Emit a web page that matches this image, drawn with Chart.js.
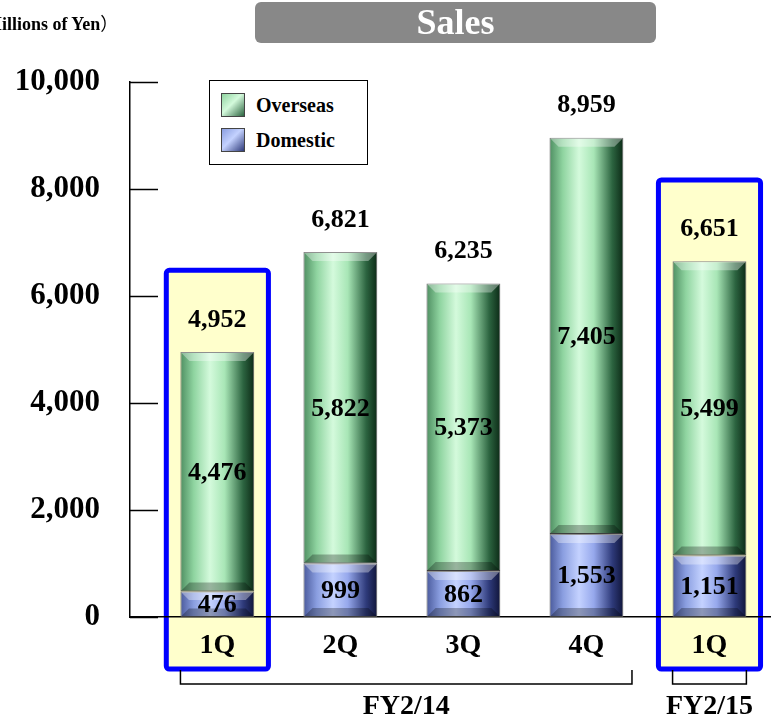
<!DOCTYPE html>
<html>
<head>
<meta charset="utf-8">
<script src="https://cdn.jsdelivr.net/npm/chart.js@4/dist/chart.umd.min.js"></script>
<style>
  html, body { margin: 0; padding: 0; background: #fff; overflow: hidden; }
  #wrap { position: relative; width: 771px; height: 718px; }
  #salesChart { position: absolute; left: 0; top: 0; }
  .serif { font-family: "Liberation Serif", "DejaVu Serif", serif; font-weight: bold; }
  .cjk { font-family: "Noto Sans CJK JP", sans-serif; font-weight: normal; }
  #units { position: absolute; left: -33px; top: 9px; font-size: 18px; white-space: nowrap; }
  #title { position: absolute; left: 255px; top: 2px; width: 401px; height: 41px; background: #888888;
           border-radius: 6px; color: #fff; font-size: 36px; text-align: center; line-height: 41px; }
  #legend { position: absolute; left: 209px; top: 80px; width: 157px; height: 83px; border: 1px solid #000; background: #fff; }
  .lg { position: absolute; left: 11px; height: 24px; font-size: 20px; display: flex; align-items: center; }
  .lg i { display: inline-block; width: 24px; height: 24px; margin-right: 11px; border: 1px solid #444; box-sizing: border-box; }
</style>
</head>
<body>
<div id="wrap">
  <canvas id="salesChart" width="771" height="718"></canvas>
  <div id="units" class="serif"><span class="cjk">（</span>Millions of Yen<span class="cjk">）</span></div>
  <div id="title" class="serif">Sales</div>
  <div id="legend" class="serif"></div>
</div>
<script>
const quarters = ['1Q', '2Q', '3Q', '4Q', '1Q'];
const domestic = [476, 999, 862, 1553, 1151];
const overseas = [4476, 5822, 5373, 7405, 5499];
const totals = [4952, 6821, 6235, 8959, 6651];
const yTicks = [0, 2000, 4000, 6000, 8000, 10000];
const fiscalGroups = [
    { label: 'FY2/14', from: 0, to: 3 },
    { label: 'FY2/15', from: 4, to: 4 }
];
// highlighted quarters (index + top of box in yen)
const highlights = [
    { index: 0, top: 6480 },
    { index: 4, top: 8170 }
];

const FONT = '"Liberation Serif", "DejaVu Serif", serif';
const fmt = v => v.toLocaleString('en-US');

const palettes = {
    Overseas: ['#4f8f62', '#8fd4a0', '#d4fadc', '#a8e6b6', '#2c6440', '#0c2a16'],
    Domestic: ['#4a5a9c', '#8a9ee0', '#c4d2ff', '#96a8ec', '#2e3a7a', '#10153a']
};

function barGradient(name) {
    return (c) => {
        const chart = c.chart;
        if (c.type !== 'data' || !chart.chartArea) return palettes[name][2];
        const xs = chart.scales.x;
        const cx = xs.getPixelForValue(c.parsed.x);
        const half = (xs.getPixelForValue(1) - xs.getPixelForValue(0)) * 0.3;
        const g = chart.ctx.createLinearGradient(cx - half, 0, cx + half, 0);
        const p = palettes[name];
        g.addColorStop(0, p[0]);
        g.addColorStop(0.18, p[1]);
        g.addColorStop(0.4, p[2]);
        g.addColorStop(0.6, p[3]);
        g.addColorStop(0.85, p[4]);
        g.addColorStop(1, p[5]);
        return g;
    };
}

const highlightBoxes = {
    id: 'highlightBoxes',
    beforeDraw(chart) {
        const { ctx, scales: { x, y }, chartArea } = chart;
        const unit = x.getPixelForValue(1) - x.getPixelForValue(0);
        ctx.save();
        highlights.forEach(h => {
            const cx = x.getPixelForValue(h.index);
            const left = cx - unit * 0.415, right = cx + unit * 0.415;
            const top = y.getPixelForValue(h.top), bottom = chartArea.bottom + 52;
            ctx.beginPath();
            ctx.roundRect(left, top, right - left, bottom - top, 3);
            ctx.fillStyle = '#ffffcc';
            ctx.fill();
            ctx.lineWidth = 5;
            ctx.strokeStyle = '#0000ff';
            ctx.stroke();
        });
        ctx.restore();
    }
};

// bevel on top and bottom of each bar segment
const bevel = {
    id: 'bevel',
    afterDatasetsDraw(chart) {
        const { ctx } = chart;
        ctx.save();
        chart.data.datasets.forEach((ds, di) => {
            chart.getDatasetMeta(di).data.forEach(bar => {
                const l = bar.x - bar.width / 2, r = bar.x + bar.width / 2;
                const t = bar.y, b = bar.base, d = Math.min(9, (b - t) / 3);
                ctx.fillStyle = 'rgba(255,255,255,0.35)';
                ctx.beginPath();
                ctx.moveTo(l, t); ctx.lineTo(r, t); ctx.lineTo(r - d, t + d); ctx.lineTo(l + d, t + d); ctx.closePath();
                ctx.fill();
                ctx.fillStyle = 'rgba(0,0,0,0.28)';
                ctx.beginPath();
                ctx.moveTo(l, b); ctx.lineTo(r, b); ctx.lineTo(r - d, b - d); ctx.lineTo(l + d, b - d); ctx.closePath();
                ctx.fill();
            });
        });
        ctx.restore();
    }
};

const innerTicks = {
    id: 'innerTicks',
    afterDraw(chart) {
        const { ctx, scales: { y }, chartArea } = chart;
        ctx.save();
        ctx.strokeStyle = '#000';
        ctx.lineWidth = 1.5;
        yTicks.forEach(v => {
            const py = Math.round(y.getPixelForValue(v)) + 0.5;
            ctx.beginPath();
            ctx.moveTo(chartArea.left, py);
            ctx.lineTo(chartArea.left + 28, py);
            ctx.stroke();
        });
        ctx.restore();
    }
};

const valueLabels = {
    id: 'valueLabels',
    afterDatasetsDraw(chart) {
        const { ctx } = chart;
        ctx.save();
        ctx.font = 'bold 26px ' + FONT;
        ctx.fillStyle = '#000';
        ctx.textAlign = 'center';
        ctx.textBaseline = 'middle';
        chart.data.datasets.forEach((ds, di) => {
            chart.getDatasetMeta(di).data.forEach((bar, i) => {
                ctx.fillText(fmt(ds.data[i].y), bar.x, (bar.y + bar.base) / 2 + 1);
            });
        });
        const topMeta = chart.getDatasetMeta(1);
        topMeta.data.forEach((bar, i) => {
            ctx.fillText(fmt(totals[i]), bar.x, bar.y - 32);
        });
        ctx.restore();
    }
};

const fiscalBrackets = {
    id: 'fiscalBrackets',
    afterDraw(chart) {
        const { ctx, scales: { x }, chartArea } = chart;
        const unit = x.getPixelForValue(1) - x.getPixelForValue(0);
        const yTop = chartArea.bottom + 53, yLine = chartArea.bottom + 67;
        ctx.save();
        ctx.strokeStyle = '#000';
        ctx.lineWidth = 1.5;
        ctx.font = 'bold 28px ' + FONT;
        ctx.fillStyle = '#000';
        ctx.textAlign = 'center';
        ctx.textBaseline = 'middle';
        fiscalGroups.forEach(g => {
            const l = x.getPixelForValue(g.from) - unit * 0.3;
            const r = x.getPixelForValue(g.to) + unit * (g.to > g.from ? 0.37 : 0.3);
            ctx.beginPath();
            ctx.moveTo(l, yTop); ctx.lineTo(l, yLine); ctx.lineTo(r, yLine); ctx.lineTo(r, yTop);
            ctx.stroke();
            ctx.fillText(g.label, (l + r) / 2, chartArea.bottom + 90);
        });
        ctx.restore();
    }
};

const datasets = [
    { label: 'Domestic', data: domestic.map((v, i) => ({ x: i, y: v })), backgroundColor: barGradient('Domestic') },
    { label: 'Overseas', data: overseas.map((v, i) => ({ x: i, y: v })), backgroundColor: barGradient('Overseas') }
].map(d => Object.assign(d, { borderColor: '#555', borderWidth: 1, borderSkipped: false, barPercentage: 0.6, categoryPercentage: 1 }));

new Chart(document.getElementById('salesChart'), {
    type: 'bar',
    data: { datasets },
    options: {
        responsive: false,
        animation: false,
        layout: { padding: { top: 82, right: 0, left: 0, bottom: 0 } },
        plugins: { legend: { display: false }, tooltip: { enabled: false } },
        scales: {
            x: {
                type: 'linear', stacked: true, offset: false, min: -0.71, max: 4.5,
                afterBuildTicks: s => { s.ticks = quarters.map((_, i) => ({ value: i })); },
                afterFit: s => { s.height = 101; },
                grid: { display: false },
                border: { display: true, color: '#000', width: 1.5 },
                ticks: { padding: 4, color: '#000', font: { family: FONT, size: 28, weight: 'bold' }, callback: v => quarters[v] }
            },
            y: {
                stacked: true, min: 0, max: 10000,
                afterBuildTicks: s => { s.ticks = yTicks.map(v => ({ value: v })); },
                afterFit: s => { s.width = 130; },
                grid: { display: false },
                border: { display: true, color: '#000', width: 1.5 },
                ticks: { padding: 22, color: '#000', font: { family: FONT, size: 31, weight: 'bold' }, callback: v => fmt(v) }
            }
        }
    },
    plugins: [highlightBoxes, bevel, innerTicks, valueLabels, fiscalBrackets]
});

// legend: Overseas above Domestic, as in the original
const legendEl = document.getElementById('legend');
[...datasets].reverse().forEach((d, k) => {
    const p = palettes[d.label];
    legendEl.insertAdjacentHTML('beforeend',
        `<div class="lg" style="top:${12 + k * 35}px"><i style="background:linear-gradient(135deg, ${p[1]}, ${p[2]} 45%, ${p[4]})"></i>${d.label}</div>`);
});
</script>
</body>
</html>
